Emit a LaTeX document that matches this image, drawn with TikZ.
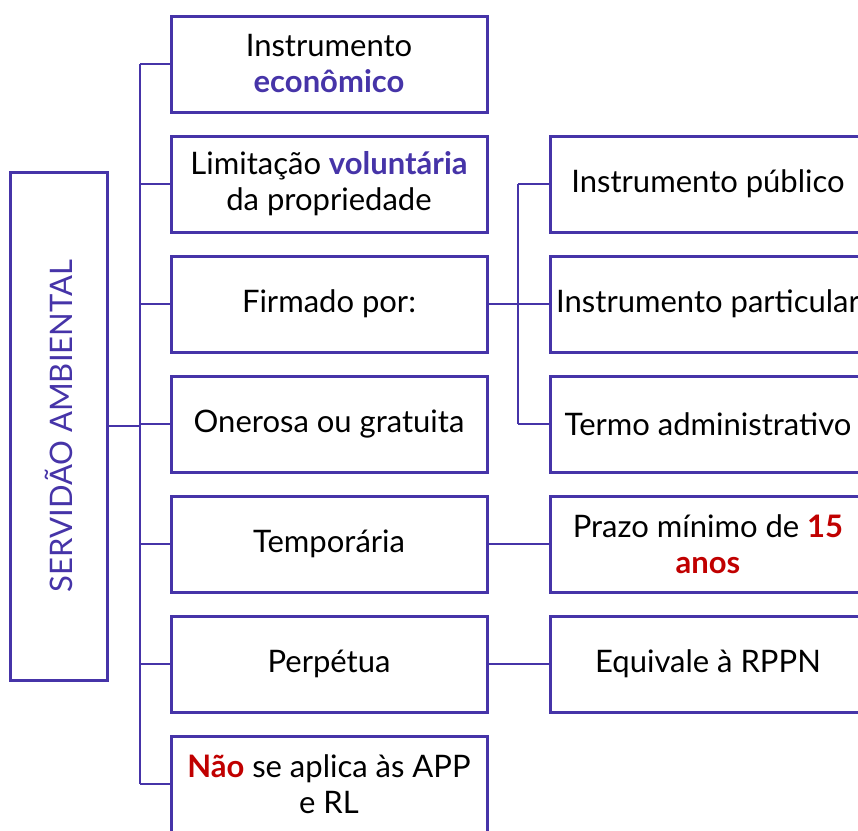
\documentclass[tikz,border=0pt]{standalone}
\usepackage{fontspec}
\setmainfont{Lato}
\usetikzlibrary{positioning}
\definecolor{roxo}{RGB}{70,52,168}
\definecolor{vermelho}{RGB}{192,0,0}
\tikzstyle{caixa} = [draw=roxo, line width=3pt, minimum width=316pt, minimum height=96pt, inner sep=0pt, align=center, font=\fontsize{31}{36}\selectfont]
\tikzstyle{liga} = [draw=roxo, line width=2pt]

\begin{document}
\begin{tikzpicture}[x=1pt, y=-1pt, node distance=21pt and 60pt]
    \useasboundingbox (0,0) rectangle (858,830);

    % coluna do meio
    \node[caixa] (instr) at (329,64) {Instrumento\\\textcolor{roxo}{\bfseries econômico}};
    \node[caixa, below=of instr] (limit) {Limitação \textcolor{roxo}{\bfseries voluntária}\\da propriedade};
    \node[caixa, below=of limit] (firm) {Firmado por:};
    \node[caixa, below=of firm] (oner) {Onerosa ou gratuita};
    \node[caixa, below=of oner] (temp) {Temporária};
    \node[caixa, below=of temp] (perp) {Perpétua};
    \node[caixa, below=of perp] (nao) {\textcolor{vermelho}{\bfseries Não} se aplica às APP\\e RL};

    % coluna da direita
    \node[caixa, right=of limit] (pub) {Instrumento público};
    \node[caixa, right=of firm] (part) {Instrumento particular};
    \node[caixa, right=of oner] (termo) {Termo administrativo};
    \node[caixa, right=of temp] (prazo) {Prazo mínimo de \textcolor{vermelho}{\bfseries 15}\\\textcolor{vermelho}{\bfseries anos}};
    \node[caixa, right=of perp] (equiv) {Equivale à RPPN};

    % caixa vertical
    \node[caixa, rotate=90, minimum width=508pt, minimum height=97pt, text=roxo] (serv) at (58.5,426) {SERVIDÃO AMBIENTAL};

    \coordinate (tronco) at (140,0);
    \coordinate (ramo) at (518,0);

    \draw[liga] (serv.south) -- (serv.south -| tronco);
    \draw[liga] (instr.west -| tronco) -- (nao.west -| tronco);
    \foreach \n in {instr,limit,firm,oner,temp,perp,nao}
        \draw[liga] (\n.west -| tronco) -- (\n.west);

    \draw[liga] (firm.east) -- (firm.east -| ramo);
    \draw[liga] (pub.west -| ramo) -- (termo.west -| ramo);
    \foreach \n in {pub,part,termo}
        \draw[liga] (\n.west -| ramo) -- (\n.west);
    \draw[liga] (temp.east) -- (prazo.west);
    \draw[liga] (perp.east) -- (equiv.west);
\end{tikzpicture}
\end{document}
